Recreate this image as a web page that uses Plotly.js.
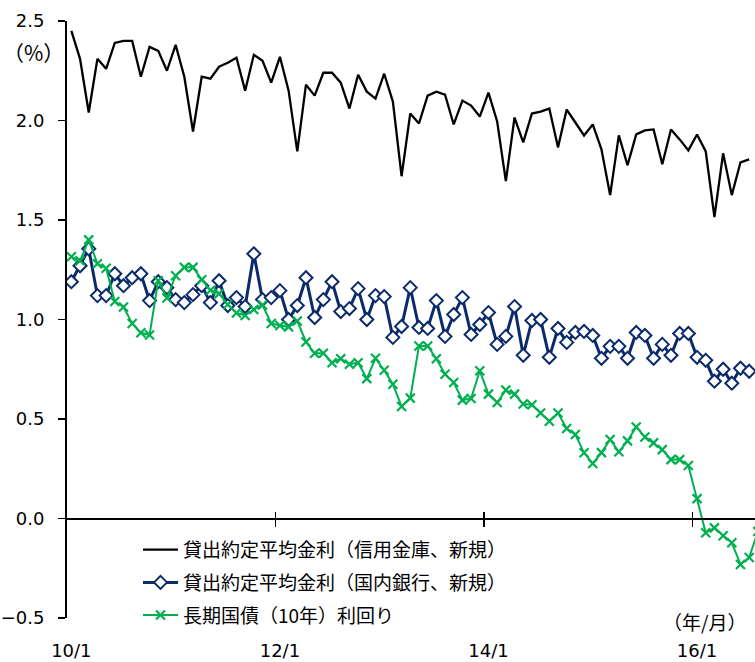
<!DOCTYPE html>
<html>
<head>
<meta charset="utf-8">
<script src="https://cdn.plot.ly/plotly-3.0.1.min.js"></script>
<style>
  html, body { margin: 0; padding: 0; background: #fff; overflow: hidden; }
  #chart { width: 755px; height: 662px; }
</style>
</head>
<body>
<div id="chart"></div>
<script>
// Monthly series starting 2010/1 (index 0 = 10/1), in percent
const shinkinRate = [
  2.45, 2.31, 2.04, 2.31, 2.26, 2.39, 2.40, 2.40, 2.22, 2.37, 2.35, 2.25,
  2.38, 2.22, 1.945, 2.22, 2.21, 2.27, 2.29, 2.315, 2.15, 2.33, 2.30, 2.19,
  2.32, 2.15, 1.845, 2.18, 2.125, 2.24, 2.24, 2.19, 2.06, 2.23, 2.145, 2.11,
  2.235, 2.095, 1.72, 2.035, 1.985, 2.125, 2.145, 2.13, 1.98, 2.10, 2.075, 2.02,
  2.14, 1.995, 1.695, 2.015, 1.89, 2.035, 2.045, 2.06, 1.865, 2.055, 1.99, 1.925,
  1.98, 1.855, 1.625, 1.925, 1.775, 1.93, 1.95, 1.955, 1.78, 1.955, 1.905, 1.85,
  1.93, 1.845, 1.515, 1.835, 1.625, 1.79, 1.805
];
const bankRate = [
  1.19, 1.27, 1.355, 1.12, 1.12, 1.23, 1.17, 1.21, 1.23, 1.095, 1.19, 1.16,
  1.10, 1.085, 1.125, 1.17, 1.085, 1.195, 1.07, 1.11, 1.065, 1.33, 1.10, 1.11,
  1.145, 1.00, 1.07, 1.21, 1.01, 1.10, 1.19, 1.04, 1.055, 1.155, 1.00, 1.12,
  1.115, 0.91, 0.965, 1.16, 0.96, 0.955, 1.095, 0.915, 1.025, 1.11, 0.925, 0.975,
  1.035, 0.875, 0.915, 1.065, 0.82, 0.995, 1.00, 0.81, 0.955, 0.885, 0.935, 0.94,
  0.92, 0.805, 0.865, 0.865, 0.805, 0.935, 0.92, 0.805, 0.875, 0.82, 0.93, 0.93,
  0.81, 0.795, 0.69, 0.75, 0.68, 0.755, 0.74
];
const jgb10y = [
  1.315, 1.295, 1.40, 1.28, 1.258, 1.09, 1.063, 0.98, 0.933, 0.922, 1.195, 1.108,
  1.22, 1.262, 1.262, 1.20, 1.147, 1.13, 1.075, 1.033, 1.02, 1.05, 1.073, 0.98,
  0.97, 0.963, 0.992, 0.887, 0.83, 0.83, 0.783, 0.803, 0.775, 0.783, 0.703, 0.805,
  0.745, 0.675, 0.563, 0.605, 0.867, 0.867, 0.803, 0.725, 0.683, 0.595, 0.603, 0.742,
  0.625, 0.583, 0.645, 0.625, 0.575, 0.572, 0.53, 0.489, 0.53, 0.452, 0.422, 0.33,
  0.276, 0.331, 0.397, 0.335, 0.39, 0.46, 0.41, 0.38, 0.346, 0.296, 0.296, 0.266,
  0.10, -0.072, -0.047, -0.087, -0.122, -0.231, -0.196, -0.065
];

const seriesNames = [
  '貸出約定平均金利（信用金庫、新規）',
  '貸出約定平均金利（国内銀行、新規）',
  '長期国債（10年）利回り'
];
const tickMonthIndex = [0, 24, 48, 72];
const tickLabels = ['10/1', '12/1', '14/1', '16/1'];

const idx = arr => arr.map((_, i) => i);
const FONT = '"Noto Sans CJK JP", "Noto Sans", sans-serif';
const NUM_FONT = '"DejaVu Sans", sans-serif';

const xRange = [-0.5, 78.67];
const yRange = [-0.5, 2.5];
// year-boundary tick marks sit between categories on the zero axis
const boundaryTicks = tickMonthIndex.slice(1).map(i => i - 0.5);
const zeroPos = (0 - yRange[0]) / (yRange[1] - yRange[0]);

const traces = [
  {
    x: idx(shinkinRate), y: shinkinRate, name: seriesNames[0], legendgroup: 'a',
    type: 'scatter', mode: 'lines',
    line: { color: '#000000', width: 2.3 }
  },
  {
    x: idx(bankRate), y: bankRate, name: seriesNames[1], legendgroup: 'b',
    type: 'scatter', mode: 'lines+markers',
    line: { color: '#0B2A6B', width: 3 },
    marker: { symbol: 'diamond', size: 10, color: '#ffffff', line: { color: '#0B2A6B', width: 2 } }
  },
  {
    x: idx(jgb10y), y: jgb10y, name: seriesNames[2], legendgroup: 'c',
    type: 'scatter', mode: 'lines+markers',
    line: { color: '#00B050', width: 2 },
    marker: { symbol: 'x-thin-open', size: 9, color: '#00B050', line: { color: '#00B050', width: 2.2 } }
  },
  // placeholders so the zero-axis overlays get drawn
  { x: [xRange[0]], y: [null], xaxis: 'x2', yaxis: 'y', mode: 'lines', showlegend: false, hoverinfo: 'skip' },
  { x: [xRange[0]], y: [null], xaxis: 'x3', yaxis: 'y', mode: 'lines', showlegend: false, hoverinfo: 'skip' }
];

const layout = {
  width: 755, height: 662,
  margin: { l: 67, r: 0, t: 21, b: 44 },
  paper_bgcolor: '#ffffff', plot_bgcolor: '#ffffff',
  font: { family: FONT, color: '#000000', size: 18 },
  showlegend: true,
  legend: {
    x: 0.1032, y: 0.146, xanchor: 'left', yanchor: 'top',
    bgcolor: 'rgba(0,0,0,0)', font: { size: 19, family: FONT },
    tracegroupgap: 5, traceorder: 'grouped', itemwidth: 35
  },
  xaxis: {
    range: xRange, showgrid: false, zeroline: false, showline: false,
    tickmode: 'array', tickvals: tickMonthIndex, ticktext: tickLabels,
    ticks: '', ticklabelstandoff: 20,
    tickfont: { size: 18, family: NUM_FONT }
  },
  xaxis2: {
    overlaying: 'x', anchor: 'free', position: zeroPos, range: xRange,
    showgrid: false, zeroline: false, showline: true, linecolor: '#000', linewidth: 2,
    tickmode: 'array', tickvals: boundaryTicks, showticklabels: false,
    ticks: 'outside', ticklen: 7, tickwidth: 1.5, tickcolor: '#000'
  },
  xaxis3: {
    overlaying: 'x', anchor: 'free', position: zeroPos, range: xRange,
    showgrid: false, zeroline: false, showline: false,
    tickmode: 'array', tickvals: boundaryTicks, showticklabels: false,
    ticks: 'inside', ticklen: 7, tickwidth: 1.5, tickcolor: '#000'
  },
  yaxis: {
    range: yRange, dtick: 0.5, tick0: 0, tickformat: '.1f',
    showgrid: false, zeroline: false,
    showline: true, linecolor: '#000', linewidth: 2,
    ticks: 'outside', ticklen: 7, tickwidth: 1.5, tickcolor: '#000',
    ticklabelstandoff: 10,
    tickfont: { size: 18, family: NUM_FONT }
  },
  annotations: [
    { text: '（%）', xref: 'paper', yref: 'paper', x: -0.048, y: 0.948,
      xanchor: 'center', yanchor: 'middle', showarrow: false, font: { size: 21, family: FONT } },
    { text: '（年/月）', xref: 'paper', yref: 'paper', x: 0.926, y: -0.0067,
      xanchor: 'center', yanchor: 'middle', showarrow: false, font: { size: 19, family: FONT } }
  ]
};

Plotly.newPlot('chart', traces, layout, { displayModeBar: false, staticPlot: true });
</script>
</body>
</html>
